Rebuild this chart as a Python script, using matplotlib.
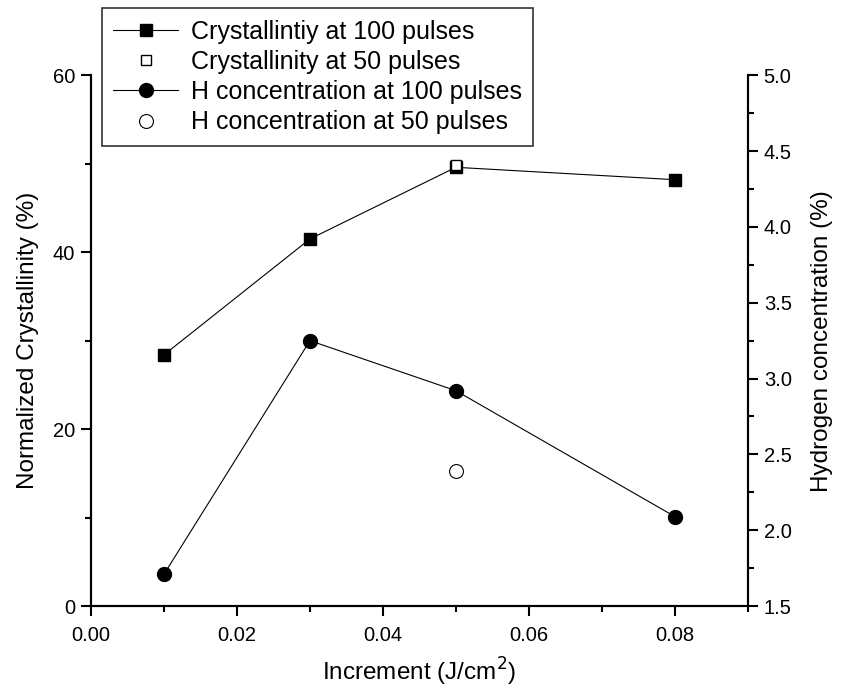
import matplotlib.pyplot as plt
from matplotlib.ticker import MultipleLocator

plt.rcParams['font.family'] = ['Liberation Sans', 'DejaVu Sans']

# données
x_100 = [0.01, 0.03, 0.05, 0.08]
cryst_100 = [28.4, 41.5, 49.6, 48.2]
x_50 = [0.05]
cryst_50 = [49.9]
h_100 = [1.71, 3.25, 2.92, 2.09]
h_50 = [2.39]

fig = plt.figure(figsize=(8.43, 6.91), dpi=100)
ax = fig.add_axes([0.108, 0.123, 0.779, 0.768])
ax2 = ax.twinx()

l1, = ax.plot(x_100, cryst_100, color='black', lw=0.8, marker='s', ms=8,
              mfc='black', mec='black', label='Crystallintiy at 100 pulses')
l2, = ax.plot(x_50, cryst_50, ls='none', marker='s', ms=7.5, mfc='white',
              mec='black', mew=1, label='Crystallinity at 50 pulses', zorder=5)
l3, = ax2.plot(x_100, h_100, color='black', lw=0.8, marker='o', ms=10,
               mfc='black', mec='black', label='H concentration at 100 pulses')
l4, = ax2.plot(x_50, h_50, ls='none', marker='o', ms=10, mfc='white',
               mec='black', mew=0.8, label='H concentration at 50 pulses')

ax.set_xlim(0, 0.09)
ax.set_ylim(0, 60)
ax2.set_ylim(1.5, 5.0)

ax.xaxis.set_major_locator(MultipleLocator(0.02))
ax.xaxis.set_minor_locator(MultipleLocator(0.01))
ax.yaxis.set_major_locator(MultipleLocator(20))
ax.yaxis.set_minor_locator(MultipleLocator(10))
ax2.yaxis.set_major_locator(MultipleLocator(0.5))
ax2.yaxis.set_minor_locator(MultipleLocator(0.25))
ax.xaxis.set_major_formatter(plt.FuncFormatter(lambda v, p: f'{v:.2f}'))
ax2.yaxis.set_major_formatter(plt.FuncFormatter(lambda v, p: f'{v:.1f}'))

for a in (ax, ax2):
    a.spines['top'].set_visible(False)
    for s in a.spines.values():
        s.set_linewidth(1.5)
    a.tick_params(which='major', direction='out', length=7.5, width=1.5,
                  labelsize=14.5, pad=4)
    a.tick_params(which='minor', direction='out', length=4.5, width=1.5)
ax.tick_params(axis='x', pad=7)

ax.set_xlabel('Increment (J/cm$^2$)', fontsize=17.5, labelpad=8)
ax.set_ylabel('Normalized Crystallinity (%)', fontsize=17.5, labelpad=10)
ax2.set_ylabel('Hydrogen concentration (%)', fontsize=17.5, labelpad=14)

leg = fig.legend(handles=[l1, l2, l3, l4], loc='upper left',
                 bbox_to_anchor=(0.121, 0.988), fontsize=18, frameon=True,
                 fancybox=False, edgecolor='black', handlelength=2.6,
                 borderpad=0.45, labelspacing=0.25, handletextpad=0.5,
                 borderaxespad=0)
leg.get_frame().set_linewidth(1.2)

plt.savefig('out.png', dpi=100)
plt.close()
